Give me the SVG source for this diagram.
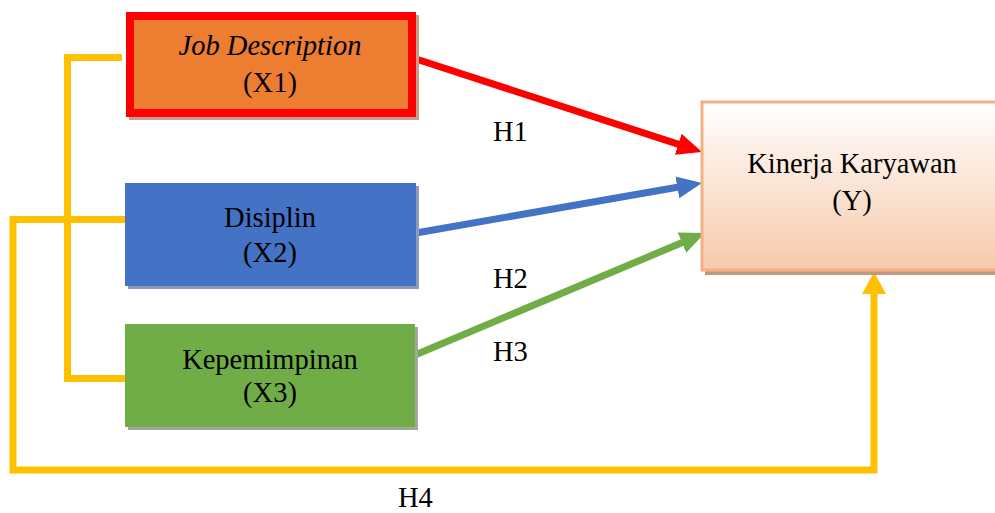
<svg xmlns="http://www.w3.org/2000/svg" width="995" height="513" viewBox="0 0 995 513">
<style>
  text { font-family: "Liberation Serif", "Times New Roman", serif; font-size: 28.5px; fill: #000; }
  .c { text-anchor: middle; }
  .yel { fill: none; stroke: #FFC000; stroke-width: 7; stroke-linejoin: miter; }
  .arr { fill: none; stroke-width: 7; }
</style>
<defs>
  <linearGradient id="gy" x1="0" y1="0" x2="0" y2="1">
    <stop offset="0" stop-color="#FFFFFF"/>
    <stop offset="1" stop-color="#F7C9AA"/>
  </linearGradient>
  <marker id="mRed" markerUnits="userSpaceOnUse" markerWidth="26" markerHeight="24" refX="3" refY="11" orient="auto">
    <path d="M0,0 L25,11 L0,22 z" fill="#FF0000"/>
  </marker>
  <marker id="mBlue" markerUnits="userSpaceOnUse" markerWidth="26" markerHeight="24" refX="3" refY="11" orient="auto">
    <path d="M0,0 L25,11 L0,22 z" fill="#4472C4"/>
  </marker>
  <marker id="mGreen" markerUnits="userSpaceOnUse" markerWidth="26" markerHeight="24" refX="3" refY="11" orient="auto">
    <path d="M0,0 L25,11 L0,22 z" fill="#70AD47"/>
  </marker>
  <marker id="mYel" markerUnits="userSpaceOnUse" markerWidth="24" markerHeight="26" refX="2" refY="12" orient="auto">
    <path d="M0,0 L22,12 L0,24 z" fill="#FFC000"/>
  </marker>
</defs>

<g id="connectors">
  <path class="yel" d="M122,57.5 L67.5,57.5 L67.5,378.5 L127,378.5"/>
  <path class="yel" d="M126,219.5 L13,219.5 L13,470 L874,470 L874,292" marker-end="url(#mYel)"/>
  <line class="arr" x1="413" y1="58" x2="681.1" y2="145.2" stroke="#FF0000" marker-end="url(#mRed)"/>
  <line class="arr" x1="416" y1="233" x2="680.3" y2="186.8" stroke="#4472C4" marker-end="url(#mBlue)"/>
  <line class="arr" x1="415" y1="355" x2="684.7" y2="241.5" stroke="#70AD47" marker-end="url(#mGreen)"/>
  <text x="493" y="141">H1</text>
  <text x="493" y="288">H2</text>
  <text x="493" y="361">H3</text>
  <text x="398" y="507">H4</text>
</g>

<g id="x1">
  <rect x="129" y="15" width="290" height="105" fill="#C4A08C"/>
  <rect x="130" y="16" width="282" height="97" fill="#ED7D31" stroke="#FF0000" stroke-width="8"/>
  <text class="c" x="270" y="55" font-style="italic">Job Description</text>
  <text class="c" x="270" y="92">(X1)</text>
</g>

<g id="x2">
  <rect x="128" y="186" width="291" height="103" fill="#8C9CB8"/>
  <rect x="125" y="183" width="291" height="103" fill="#4472C4"/>
  <text class="c" x="270" y="227">Disiplin</text>
  <text class="c" x="270" y="262">(X2)</text>
</g>

<g id="x3">
  <rect x="128" y="327" width="290" height="103" fill="#A3A69F"/>
  <rect x="125" y="324" width="290" height="103" fill="#70AD47"/>
  <text class="c" x="270" y="369">Kepemimpinan</text>
  <text class="c" x="270" y="402">(X3)</text>
</g>

<g id="y">
  <rect x="705" y="105" width="300" height="170" fill="#C09A80"/>
  <rect x="702" y="102" width="300" height="168" fill="url(#gy)" stroke="#F4B183" stroke-width="3"/>
  <text class="c" x="852" y="173">Kinerja Karyawan</text>
  <text class="c" x="852" y="210">(Y)</text>
</g>
</svg>
